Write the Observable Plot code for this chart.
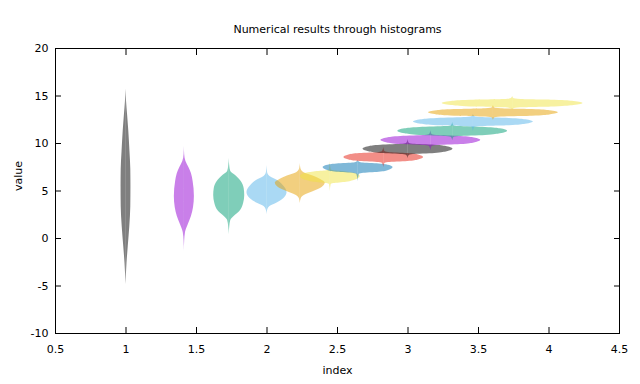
<!DOCTYPE html>
<html><head><meta charset="utf-8">
<script src="https://cdn.jsdelivr.net/npm/d3@7"></script>
<script src="https://cdn.jsdelivr.net/npm/@observablehq/plot@0.6"></script>
<style>body{margin:0;background:#fff}</style>
</head><body><div id="chart"></div>
<script>
const title = "Numerical results through histograms";
const xLabel = "index";
const yLabel = "value";
const xTicks = [0.5, 1, 1.5, 2, 2.5, 3, 3.5, 4, 4.5];
const yTicks = [-10, -5, 0, 5, 10, 15, 20];

// violin centres along the x axis
const index = [1, 1.414, 1.732, 2, 2.236, 2.449, 2.646, 2.828, 3, 3.162, 3.317, 3.464, 3.606, 3.742];

// gnuplot default line-type colours, drawn half transparent
const seriesColors = ["#000000", "#9400d3", "#009e73", "#56b4e9", "#e69f00", "#f0e442", "#0072b2",
                      "#e51e10", "#000000", "#9400d3", "#009e73", "#56b4e9", "#e69f00", "#f0e442"];

// profile of each violin: value (y) and half width (in index units)
const profileY = [
  [15.7, 14.4, 13.05, 11.26, 9.16, 7.26, 5.47, 3.37, 1.26, -0.84, -2.63, -4.84],
  [9.68, 8.84, 8.1, 7.47, 6.84, 6.0, 4.42, 3.26, 2.32, 1.47, 0.63, -0.3, -1.37],
  [8.42, 7.58, 7.05, 6.63, 6.0, 5.26, 4.53, 3.68, 2.84, 2.32, 1.89, 1.26, 0.42],
  [7.68, 6.95, 6.53, 6.1, 5.58, 4.84, 4.21, 3.68, 3.37, 2.95, 2.53],
  [7.9, 7.37, 6.95, 6.53, 6.21, 5.84, 5.37, 4.95, 4.53, 4.21, 3.68],
  [8.1, 7.23, 7.13, 7.01, 6.83, 6.53, 6.16, 5.93, 5.78, 5.68, 4.95],
  [8.21, 8.04, 7.94, 7.85, 7.71, 7.47, 7.16, 6.97, 6.84, 6.74, 6.0],
  [9.58, 9.16, 9.06, 8.95, 8.80, 8.53, 8.27, 8.11, 8.0, 7.90, 7.47],
  [10.42, 10.02, 9.92, 9.82, 9.67, 9.42, 9.13, 8.96, 8.84, 8.74, 8.42],
  [11.34, 10.94, 10.84, 10.74, 10.59, 10.34, 10.06, 9.89, 9.78, 9.68, 9.23],
  [12.21, 11.88, 11.78, 11.68, 11.54, 11.29, 11.02, 10.85, 10.74, 10.64, 10.28],
  [13.08, 12.83, 12.73, 12.64, 12.50, 12.26, 12.03, 11.88, 11.79, 11.69, 11.26],
  [14.0, 13.77, 13.67, 13.58, 13.45, 13.23, 13.01, 12.88, 12.79, 12.69, 12.45],
  [14.98, 14.73, 14.63, 14.55, 14.42, 14.21, 13.99, 13.85, 13.76, 13.66, 13.51]
];
const profileW = [
  [0, 0.004, 0.011, 0.020, 0.028, 0.034, 0.035, 0.034, 0.027, 0.016, 0.007, 0],
  [0, 0.002, 0.011, 0.032, 0.050, 0.062, 0.071, 0.065, 0.050, 0.028, 0.008, 0.002, 0],
  [0, 0.004, 0.011, 0.045, 0.085, 0.106, 0.110, 0.102, 0.075, 0.035, 0.011, 0.004, 0],
  [0, 0.004, 0.021, 0.075, 0.115, 0.142, 0.120, 0.065, 0.021, 0.004, 0],
  [0, 0.004, 0.024, 0.100, 0.145, 0.177, 0.155, 0.095, 0.028, 0.007, 0],
  [0, 0.006, 0.025, 0.115, 0.180, 0.212, 0.180, 0.115, 0.025, 0.006, 0],
  [0, 0.008, 0.030, 0.149, 0.216, 0.248, 0.216, 0.149, 0.030, 0.008, 0],
  [0, 0.008, 0.034, 0.170, 0.246, 0.283, 0.246, 0.170, 0.034, 0.008, 0],
  [0, 0.008, 0.038, 0.191, 0.278, 0.319, 0.278, 0.191, 0.038, 0.008, 0],
  [0, 0.008, 0.042, 0.212, 0.308, 0.354, 0.308, 0.212, 0.042, 0.008, 0],
  [0, 0.008, 0.047, 0.233, 0.338, 0.389, 0.338, 0.233, 0.047, 0.008, 0],
  [0, 0.008, 0.051, 0.255, 0.370, 0.425, 0.370, 0.255, 0.051, 0.008, 0],
  [0, 0.008, 0.055, 0.276, 0.400, 0.460, 0.400, 0.276, 0.055, 0.008, 0],
  [0, 0.008, 0.060, 0.299, 0.434, 0.499, 0.434, 0.299, 0.060, 0.008, 0]
];

// table: each violin as a left half and a right half
const rows = [];
index.forEach((c, i) => {
  ["L", "R"].forEach(side => {
    profileY[i].forEach((y, j) => {
      const w = profileW[i][j];
      rows.push({id: i, key: i + side, y,
                 x1: side === "L" ? c - w : c,
                 x2: side === "L" ? c : c + w});
    });
  });
});

const chart = Plot.plot({
  width: 640,
  height: 384,
  marginLeft: 55,
  marginRight: 21,
  marginTop: 48,
  marginBottom: 51,
  x: {domain: [0.5, 4.5]},
  y: {domain: [-10, 20]},
  color: {type: "ordinal", domain: d3.range(index.length), range: seriesColors},
  style: {fontFamily: "DejaVu Sans", fontSize: "11px", color: "black", background: "white"},
  marks: [
    Plot.areaX(rows, {y: "y", x1: "x1", x2: "x2", z: "key", fill: "id", fillOpacity: 0.5, curve: "monotone-y"}),
    Plot.frame({stroke: "black"}),
    Plot.axisX(xTicks, {anchor: "bottom", tickSize: 0, tickPadding: 12, tickFormat: d => String(d), label: null}),
    Plot.axisX(xTicks, {anchor: "bottom", tickSize: 6, dy: -6, fill: "none", label: null}),
    Plot.axisX(xTicks, {anchor: "top", tickSize: 6, dy: 6, fill: "none", label: null}),
    Plot.axisY(yTicks, {anchor: "left", tickSize: 0, tickPadding: 7, tickFormat: d => String(d), label: null}),
    Plot.axisY(yTicks, {anchor: "left", tickSize: 6, dx: 6, fill: "none", label: null}),
    Plot.axisY(yTicks, {anchor: "right", tickSize: 6, dx: -6, fill: "none", label: null}),
    Plot.text([title], {text: d => d, frameAnchor: "top", dy: -23}),
    Plot.text([xLabel], {text: d => d, frameAnchor: "bottom", dy: 40}),
    Plot.text([yLabel], {text: d => d, frameAnchor: "left", dx: -37, rotate: -90})
  ]
});
document.getElementById("chart").appendChild(chart);
</script>
</body></html>
